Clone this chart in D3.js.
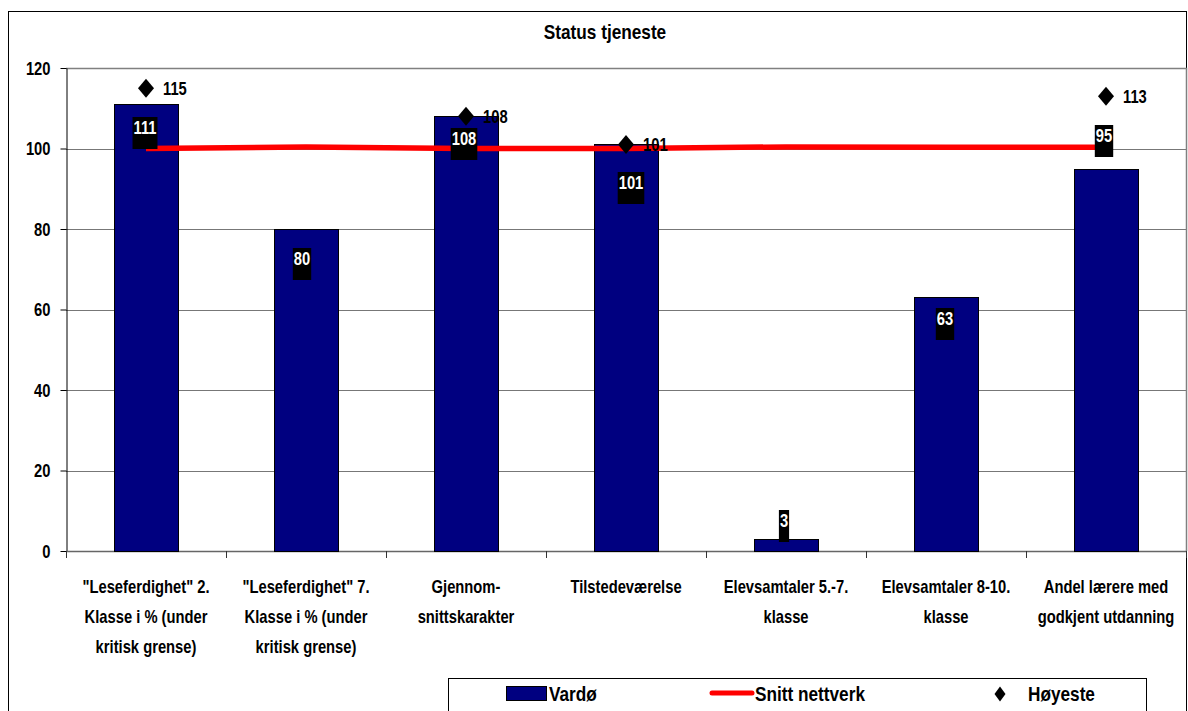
<!DOCTYPE html>
<html>
<head>
<meta charset="utf-8">
<script src="https://cdn.jsdelivr.net/npm/d3@7"></script>
<style>
  html, body { margin: 0; padding: 0; background: #fff; }
  svg { display: block; }
  text { font-family: "Liberation Sans Narrow", "Arial Narrow", "Liberation Sans", Arial, sans-serif; font-weight: bold; }
</style>
</head>
<body>
<svg id="chart" width="1188" height="711"></svg>
<script>
// ---- data ----
const title = "Status tjeneste";
const categories = [
  "\"Leseferdighet\" 2. Klasse i % (under kritisk grense)",
  "\"Leseferdighet\" 7. Klasse i % (under kritisk grense)",
  "Gjennom-snittskarakter",
  "Tilstedeværelse",
  "Elevsamtaler 5.-7. klasse",
  "Elevsamtaler 8-10. klasse",
  "Andel lærere med godkjent utdanning"
];
const categoryLines = [
  ["\"Leseferdighet\" 2.", "Klasse i % (under", "kritisk grense)"],
  ["\"Leseferdighet\" 7.", "Klasse i % (under", "kritisk grense)"],
  ["Gjennom-", "snittskarakter"],
  ["Tilstedeværelse"],
  ["Elevsamtaler 5.-7.", "klasse"],
  ["Elevsamtaler 8-10.", "klasse"],
  ["Andel lærere med", "godkjent utdanning"]
];
const seriesNames = ["Vardø", "Snitt nettverk", "Høyeste"];
const vardo = [111, 80, 108, 101, 3, 63, 95];
const snittNettverk = [100, 100.4, 100, 100, 100.4, 100.3, 100.3];
const hoyeste = [115, null, 108, 101, null, null, 113];
const yTicks = [0, 20, 40, 60, 80, 100, 120];

// ---- layout / style ----
const plot = { left: 66, right: 1186, top: 68, bottom: 551 };
const navy = "#000080", red = "#ff0000";
const SX = 0.82; // horizontal condensing (narrow font look)
// manual nudges of the bar value labels (pixels), as placed in the original
const labelDy = [13, 19, 12, 28, -29, 11, -44];
const labelDx = [-1, -4, -2, 5, -2, -1, -2];

const svg = d3.select("#chart");

function ntext(parent, px, py, str, size, anchor, fill) {
  return parent.append("text")
    .attr("transform", `translate(${px},${py}) scale(${SX},1)`)
    .attr("text-anchor", anchor || "start")
    .attr("font-size", size)
    .attr("fill", fill || "#000")
    .text(str);
}

// outer chart border
svg.append("rect").attr("x", 8.5).attr("y", 11.5).attr("width", 1178).attr("height", 740)
  .attr("fill", "#fff").attr("stroke", "#000").attr("stroke-width", 1);

const x = d3.scaleBand().domain(categories).range([plot.left, plot.right])
  .paddingInner(0.6).paddingOuter(0.3);
const xEdge = d3.scalePoint().domain(d3.range(categories.length + 1)).range([plot.left, plot.right]);
const y = d3.scaleLinear().domain([0, 120]).range([plot.bottom, plot.top]);
const cx = (i) => x(categories[i]) + x.bandwidth() / 2;

// title
ntext(svg, 605, 39, title, 21, "middle");

// gridlines
svg.append("g").selectAll("line").data(yTicks.filter(t => t > 0 && t < 120)).join("line")
  .attr("x1", plot.left).attr("x2", plot.right)
  .attr("y1", d => Math.round(y(d)) + 0.5).attr("y2", d => Math.round(y(d)) + 0.5)
  .attr("stroke", "#777").attr("stroke-width", 1);

// plot area border (top & right)
svg.append("path")
  .attr("d", `M${plot.left},${Math.round(y(120)) + 0.5}H${plot.right + 0.5}V${plot.bottom}`)
  .attr("fill", "none").attr("stroke", "#808080").attr("stroke-width", 1.5);

// y axis
const yAxis = d3.axisLeft(y).tickValues(yTicks).tickSize(6).tickPadding(10).tickSizeOuter(0);
const gy = svg.append("g").attr("transform", `translate(${plot.left + 0.5},0)`).call(yAxis);
gy.attr("font-family", null).attr("font-size", null);
gy.select(".domain").attr("stroke", "#000");
gy.selectAll(".tick line").attr("stroke", "#000");
gy.selectAll(".tick text")
  .attr("x", 0).attr("dy", null).attr("y", 0)
  .attr("transform", `translate(-16,6) scale(${SX},1)`)
  .attr("font-size", 18).attr("fill", "#000");

// x axis line + tick marks at category boundaries
const gx = svg.append("g");
gx.append("line").attr("x1", plot.left).attr("x2", plot.right)
  .attr("y1", plot.bottom + 0.5).attr("y2", plot.bottom + 0.5)
  .attr("stroke", "#666").attr("stroke-width", 1.5);
gx.selectAll("line.tk").data(xEdge.domain()).join("line").attr("class", "tk")
  .attr("x1", d => Math.round(xEdge(d)) + 0.5).attr("x2", d => Math.round(xEdge(d)) + 0.5)
  .attr("y1", plot.bottom).attr("y2", plot.bottom + 7)
  .attr("stroke", "#333").attr("stroke-width", 1);

// category labels
categoryLines.forEach((lines, i) => {
  lines.forEach((ln, k) => ntext(svg, cx(i), 593 + k * 30, ln, 18, "middle"));
});

// bars
svg.append("g").selectAll("rect").data(vardo).join("rect")
  .attr("x", (d, i) => Math.round(x(categories[i])) + 0.5)
  .attr("y", d => Math.round(y(d)) + 0.5)
  .attr("width", x.bandwidth())
  .attr("height", d => Math.round(y(0)) - Math.round(y(d)))
  .attr("fill", navy).attr("stroke", "#000").attr("stroke-width", 1);

// line series
const line = d3.line().x((d, i) => cx(i)).y(d => y(d));
svg.append("path").datum(snittNettverk).attr("d", line)
  .attr("fill", "none").attr("stroke", red).attr("stroke-width", 5.5);

// diamonds
const diamond = (px, py, w, h) => `M${px},${py - h / 2}L${px + w / 2},${py}L${px},${py + h / 2}L${px - w / 2},${py}Z`;
const hi = hoyeste.map((v, i) => ({ v, i })).filter(d => d.v != null);
const dg = svg.append("g");
dg.selectAll("path").data(hi).join("path")
  .attr("d", d => diamond(cx(d.i), y(d.v), 16, 19)).attr("fill", "#000");
hi.forEach(d => ntext(dg, cx(d.i) + 17, y(d.v) + 7, d.v, 18, "start"));

// bar value labels (black box, white text)
const lg = svg.append("g");
vardo.forEach((v, i) => {
  const g = lg.append("g");
  const top = Math.round(y(v)) + labelDy[i];
  const c = cx(i) + labelDx[i];
  const t = ntext(g, c, top + 17, v, 18, "middle", "#fff");
  const w = t.node().getComputedTextLength() * SX + 2;
  g.insert("rect", "text").attr("x", c - w / 2).attr("y", top).attr("width", w).attr("height", 32)
    .attr("fill", "#000");
});

// legend
const leg = svg.append("g");
leg.append("rect").attr("x", 448.5).attr("y", 678.5).attr("width", 698).attr("height", 60)
  .attr("fill", "#fff").attr("stroke", "#000").attr("stroke-width", 1);
leg.append("rect").attr("x", 506.5).attr("y", 686.5).attr("width", 40).attr("height", 14)
  .attr("fill", navy).attr("stroke", "#000");
ntext(leg, 549, 701, seriesNames[0], 21, "start");
leg.append("line").attr("x1", 712).attr("x2", 752).attr("y1", 693).attr("y2", 693)
  .attr("stroke", red).attr("stroke-width", 5).attr("stroke-linecap", "round");
ntext(leg, 755, 701, seriesNames[1], 21, "start");
leg.append("path").attr("d", diamond(1000, 694, 11, 15)).attr("fill", "#000");
ntext(leg, 1028, 701, seriesNames[2], 21, "start");
</script>
</body>
</html>
